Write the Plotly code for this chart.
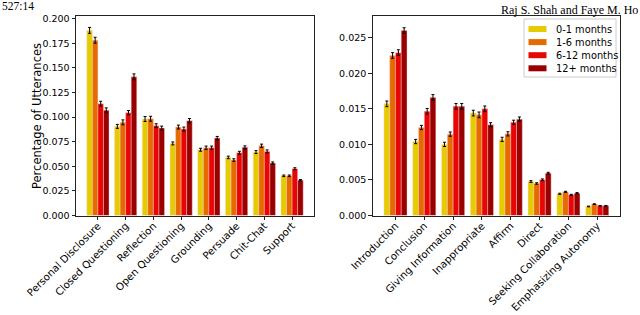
import plotly.graph_objects as go

groups = ["0-1 months", "1-6 months", "6-12 months", "12+ months"]
colors = ["#E5CC00", "#E56A00", "#E80505", "#990000"]

left_cats = ["Personal Disclosure", "Closed Questioning", "Reflection", "Open Questioning",
             "Grounding", "Persuade", "Chit-Chat", "Support"]
left_vals = [
    [0.188, 0.0905, 0.098, 0.0732, 0.0668, 0.059, 0.0644, 0.0403],
    [0.178, 0.0946, 0.0983, 0.0898, 0.0688, 0.0563, 0.0708, 0.0403],
    [0.1135, 0.1044, 0.0912, 0.0878, 0.0688, 0.0637, 0.0651, 0.0475],
    [0.1068, 0.1408, 0.0888, 0.0963, 0.0786, 0.0692, 0.0532, 0.0359],
]
left_err = [
    [0.003, 0.002, 0.0025, 0.0015, 0.0015, 0.0013, 0.0015, 0.0008],
    [0.003, 0.0025, 0.0025, 0.002, 0.0017, 0.0013, 0.0017, 0.0008],
    [0.0025, 0.0022, 0.002, 0.002, 0.0017, 0.0015, 0.0015, 0.001],
    [0.0025, 0.003, 0.002, 0.0022, 0.0017, 0.0015, 0.0012, 0.0006],
]

right_cats = ["Introduction", "Conclusion", "Giving Information", "Inappropriate",
              "Affirm", "Direct", "Seeking Collaboration", "Emphasizing Autonomy"]
right_vals = [
    [0.0157, 0.0104, 0.0100, 0.0144, 0.0107, 0.00478, 0.00305, 0.00127],
    [0.0225, 0.01237, 0.01144, 0.01415, 0.01148, 0.0045, 0.00333, 0.00160],
    [0.0229, 0.01465, 0.01535, 0.0150, 0.0131, 0.00502, 0.0029, 0.00136],
    [0.0260, 0.01660, 0.01535, 0.01275, 0.01355, 0.00595, 0.00314, 0.00136],
]
right_err = [
    [0.0004, 0.0003, 0.0003, 0.0004, 0.0003, 0.00012, 0.00008, 0.00005],
    [0.0004, 0.0003, 0.0003, 0.0004, 0.0003, 0.00010, 0.00008, 0.00005],
    [0.0004, 0.0004, 0.0004, 0.0004, 0.0003, 0.00012, 0.00008, 0.00005],
    [0.0004, 0.0004, 0.0004, 0.0003, 0.0003, 0.00012, 0.00008, 0.00005],
]

fig = go.Figure()
for i, g in enumerate(groups):
    fig.add_trace(go.Bar(
        x=left_cats, y=left_vals[i], name=g, marker_color=colors[i],
        marker_line=dict(width=0.6, color="rgba(255,210,210,0.7)"),
        error_y=dict(type="data", array=left_err[i], color="black", thickness=1, width=1.5),
        xaxis="x", yaxis="y", showlegend=False,
    ))
for i, g in enumerate(groups):
    fig.add_trace(go.Bar(
        x=right_cats, y=right_vals[i], name=g, marker_color=colors[i],
        marker_line=dict(width=0.6, color="rgba(255,210,210,0.7)"),
        error_y=dict(type="data", array=right_err[i], color="black", thickness=1, width=1.5),
        xaxis="x2", yaxis="y2", showlegend=False,
    ))

W, H = 640, 315
axis_common = dict(showline=True, mirror=True, linecolor="#222", linewidth=1,
                   ticks="outside", ticklen=3.5, tickcolor="#222", showgrid=False,
                   zeroline=False, automargin=False)
xfont = dict(family="DejaVu Sans", size=10.2, color="black")
yfont = dict(family="DejaVu Sans", size=9.5, color="black")
ydom = [1 - 215.5 / H, 1 - 16 / H]

shapes = []
annotations = [
    dict(text="Percentage of Utterances", textangle=-90, x=37 / W, y=1 - 116 / H,
         xref="paper", yref="paper", showarrow=False, xanchor="center", yanchor="middle",
         font=dict(family="DejaVu Sans", size=11.5, color="black")),
    dict(text="527:14", x=0, y=1 + 2 / H, xref="paper", yref="paper", showarrow=False,
         xanchor="left", yanchor="top", font=dict(family="Liberation Serif", size=11.5, color="black")),
    dict(text="Raj S. Shah and Faye M. Ho", x=1, y=1 - 1 / H, xref="paper", yref="paper", showarrow=False,
         xanchor="right", yanchor="top", font=dict(family="Liberation Serif", size=12, color="black")),
]

# legend (drawn manually for matplotlib-like compact spacing)
lx0, lx1, ly0, ly1 = 524, 616, 19, 77
shapes.append(dict(type="rect", xref="paper", yref="paper",
                   x0=lx0 / W, x1=lx1 / W, y0=1 - ly1 / H, y1=1 - ly0 / H,
                   line=dict(color="#cccccc", width=1), fillcolor="white", layer="above"))
for i, g in enumerate(groups):
    cy = 29 + i * 13.1
    shapes.append(dict(type="rect", xref="paper", yref="paper",
                       x0=528.5 / W, x1=546.5 / W, y0=1 - (cy + 3) / H, y1=1 - (cy - 3) / H,
                       line=dict(width=0), fillcolor=colors[i], layer="above"))
    annotations.append(dict(text=g, x=554 / W, y=1 - cy / H, xref="paper", yref="paper",
                            showarrow=False, xanchor="left", yanchor="middle",
                            font=dict(family="DejaVu Sans", size=9.8, color="black")))

fig.update_layout(
    width=W, height=H, margin=dict(l=0, r=0, t=0, b=0),
    paper_bgcolor="white", plot_bgcolor="white", showlegend=False,
    barmode="group", bargap=0.2, bargroupgap=0,
    xaxis=dict(domain=[76 / W, 314 / W], range=[-0.79, 7.79], tickangle=-45, anchor="y",
               tickfont=xfont, ticklabelstandoff=-4, **axis_common),
    yaxis=dict(domain=ydom, range=[0, 0.2026], tickvals=[0, 0.025, 0.05, 0.075, 0.1, 0.125, 0.15, 0.175, 0.2],
               tickformat=".3f", anchor="x", tickfont=yfont, **axis_common),
    xaxis2=dict(domain=[372.7 / W, 620 / W], range=[-0.79, 7.79], tickangle=-45, anchor="y2",
                tickfont=xfont, ticklabelstandoff=-4, **axis_common),
    yaxis2=dict(domain=ydom, range=[0, 0.02805], tickvals=[0, 0.005, 0.01, 0.015, 0.02, 0.025],
                tickformat=".3f", anchor="x2", tickfont=yfont, **axis_common),
    shapes=shapes,
    annotations=annotations,
)
fig.write_html("out.html", config={"displayModeBar": False},
               post_script="document.body.style.margin='0';document.body.style.overflow='hidden';")
